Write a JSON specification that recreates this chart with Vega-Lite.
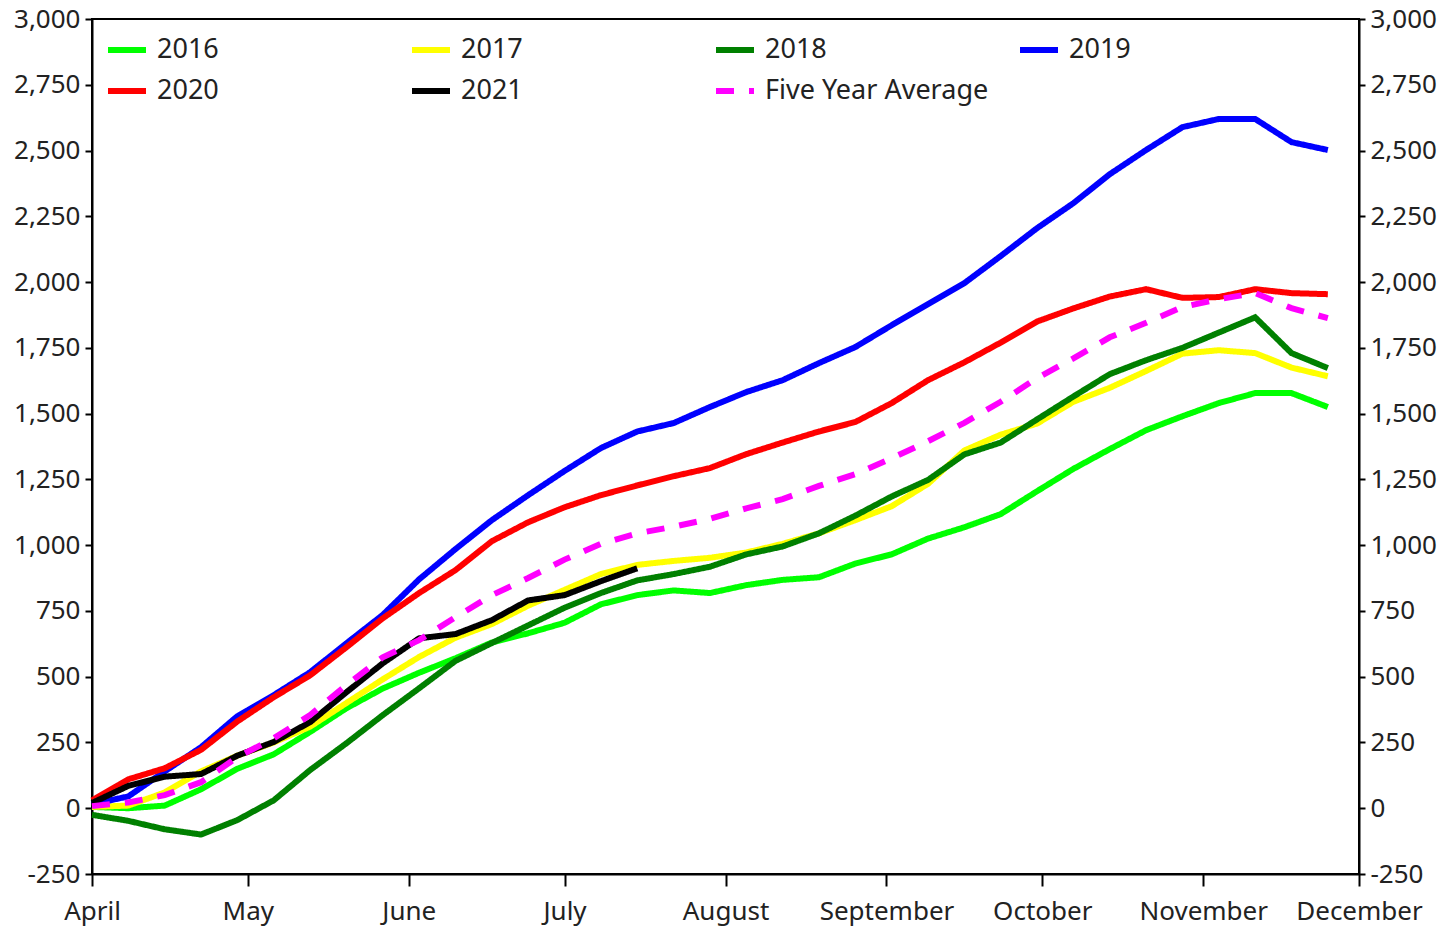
{
  "$schema": "https://vega.github.io/schema/vega-lite/v6.json",
  "width": 1267,
  "height": 855,
  "autosize": {"type": "none"},
  "padding": {"left": 92, "top": 19, "right": 96, "bottom": 64},
  "background": "white",
  "config": {
    "font": "Noto Sans",
    "view": {"stroke": "black", "strokeWidth": 2},
    "axis": {"grid": false, "domainColor": "black", "domainWidth": 2, "tickColor": "black", "tickWidth": 2, "labelColor": "#222222", "labelFontSize": 26, "labelFont": "Noto Sans", "title": null},
    "legend": {"orient": "none", "direction": "horizontal", "legendX": 13, "legendY": 9, "columns": 4, "gridAlign": "all", "columnPadding": 19, "rowPadding": 6, "symbolType": "stroke", "symbolSize": 1444, "symbolStrokeWidth": 6.5, "labelFontSize": 27, "labelFont": "Noto Sans", "labelOffset": 8, "padding": 0, "labelColor": "#222222", "labelLimit": 400}
  },
  "data": {"values": [
    {"date":"2021-04-01T00:00:00","series":"2016","value":5},{"date":"2021-04-08T00:00:00","series":"2016","value":0},{"date":"2021-04-15T00:00:00","series":"2016","value":10},{"date":"2021-04-22T00:00:00","series":"2016","value":72},{"date":"2021-04-29T00:00:00","series":"2016","value":150},{"date":"2021-05-06T00:00:00","series":"2016","value":205},{"date":"2021-05-13T00:00:00","series":"2016","value":290},{"date":"2021-05-20T00:00:00","series":"2016","value":380},{"date":"2021-05-27T00:00:00","series":"2016","value":455},{"date":"2021-06-03T00:00:00","series":"2016","value":515},{"date":"2021-06-10T00:00:00","series":"2016","value":570},{"date":"2021-06-17T00:00:00","series":"2016","value":630},{"date":"2021-06-24T00:00:00","series":"2016","value":665},{"date":"2021-07-01T00:00:00","series":"2016","value":705},{"date":"2021-07-08T00:00:00","series":"2016","value":775},{"date":"2021-07-15T00:00:00","series":"2016","value":810},{"date":"2021-07-22T00:00:00","series":"2016","value":828},{"date":"2021-07-29T00:00:00","series":"2016","value":818},{"date":"2021-08-05T00:00:00","series":"2016","value":848},{"date":"2021-08-12T00:00:00","series":"2016","value":868},{"date":"2021-08-19T00:00:00","series":"2016","value":878},{"date":"2021-08-26T00:00:00","series":"2016","value":930},{"date":"2021-09-02T00:00:00","series":"2016","value":965},{"date":"2021-09-09T00:00:00","series":"2016","value":1025},{"date":"2021-09-16T00:00:00","series":"2016","value":1068},{"date":"2021-09-23T00:00:00","series":"2016","value":1118},{"date":"2021-09-30T00:00:00","series":"2016","value":1205},{"date":"2021-10-07T00:00:00","series":"2016","value":1290},{"date":"2021-10-14T00:00:00","series":"2016","value":1365},{"date":"2021-10-21T00:00:00","series":"2016","value":1437},{"date":"2021-10-28T00:00:00","series":"2016","value":1490},{"date":"2021-11-04T00:00:00","series":"2016","value":1540},{"date":"2021-11-11T00:00:00","series":"2016","value":1578},{"date":"2021-11-18T00:00:00","series":"2016","value":1578},{"date":"2021-11-25T00:00:00","series":"2016","value":1525},
    {"date":"2021-04-01T00:00:00","series":"2017","value":5},{"date":"2021-04-08T00:00:00","series":"2017","value":10},{"date":"2021-04-15T00:00:00","series":"2017","value":60},{"date":"2021-04-22T00:00:00","series":"2017","value":140},{"date":"2021-04-29T00:00:00","series":"2017","value":200},{"date":"2021-05-06T00:00:00","series":"2017","value":250},{"date":"2021-05-13T00:00:00","series":"2017","value":310},{"date":"2021-05-20T00:00:00","series":"2017","value":400},{"date":"2021-05-27T00:00:00","series":"2017","value":490},{"date":"2021-06-03T00:00:00","series":"2017","value":575},{"date":"2021-06-10T00:00:00","series":"2017","value":648},{"date":"2021-06-17T00:00:00","series":"2017","value":700},{"date":"2021-06-24T00:00:00","series":"2017","value":770},{"date":"2021-07-01T00:00:00","series":"2017","value":830},{"date":"2021-07-08T00:00:00","series":"2017","value":890},{"date":"2021-07-15T00:00:00","series":"2017","value":925},{"date":"2021-07-22T00:00:00","series":"2017","value":940},{"date":"2021-07-29T00:00:00","series":"2017","value":952},{"date":"2021-08-05T00:00:00","series":"2017","value":972},{"date":"2021-08-12T00:00:00","series":"2017","value":1005},{"date":"2021-08-19T00:00:00","series":"2017","value":1045},{"date":"2021-08-26T00:00:00","series":"2017","value":1095},{"date":"2021-09-02T00:00:00","series":"2017","value":1148},{"date":"2021-09-09T00:00:00","series":"2017","value":1233},{"date":"2021-09-16T00:00:00","series":"2017","value":1360},{"date":"2021-09-23T00:00:00","series":"2017","value":1420},{"date":"2021-09-30T00:00:00","series":"2017","value":1462},{"date":"2021-10-07T00:00:00","series":"2017","value":1545},{"date":"2021-10-14T00:00:00","series":"2017","value":1598},{"date":"2021-10-21T00:00:00","series":"2017","value":1662},{"date":"2021-10-28T00:00:00","series":"2017","value":1728},{"date":"2021-11-04T00:00:00","series":"2017","value":1741},{"date":"2021-11-11T00:00:00","series":"2017","value":1730},{"date":"2021-11-18T00:00:00","series":"2017","value":1675},{"date":"2021-11-25T00:00:00","series":"2017","value":1642},
    {"date":"2021-04-01T00:00:00","series":"2018","value":-25},{"date":"2021-04-08T00:00:00","series":"2018","value":-48},{"date":"2021-04-15T00:00:00","series":"2018","value":-80},{"date":"2021-04-22T00:00:00","series":"2018","value":-100},{"date":"2021-04-29T00:00:00","series":"2018","value":-45},{"date":"2021-05-06T00:00:00","series":"2018","value":30},{"date":"2021-05-13T00:00:00","series":"2018","value":145},{"date":"2021-05-20T00:00:00","series":"2018","value":247},{"date":"2021-05-27T00:00:00","series":"2018","value":354},{"date":"2021-06-03T00:00:00","series":"2018","value":456},{"date":"2021-06-10T00:00:00","series":"2018","value":560},{"date":"2021-06-17T00:00:00","series":"2018","value":628},{"date":"2021-06-24T00:00:00","series":"2018","value":695},{"date":"2021-07-01T00:00:00","series":"2018","value":762},{"date":"2021-07-08T00:00:00","series":"2018","value":818},{"date":"2021-07-15T00:00:00","series":"2018","value":866},{"date":"2021-07-22T00:00:00","series":"2018","value":890},{"date":"2021-07-29T00:00:00","series":"2018","value":918},{"date":"2021-08-05T00:00:00","series":"2018","value":965},{"date":"2021-08-12T00:00:00","series":"2018","value":995},{"date":"2021-08-19T00:00:00","series":"2018","value":1045},{"date":"2021-08-26T00:00:00","series":"2018","value":1112},{"date":"2021-09-02T00:00:00","series":"2018","value":1185},{"date":"2021-09-09T00:00:00","series":"2018","value":1248},{"date":"2021-09-16T00:00:00","series":"2018","value":1345},{"date":"2021-09-23T00:00:00","series":"2018","value":1390},{"date":"2021-09-30T00:00:00","series":"2018","value":1478},{"date":"2021-10-07T00:00:00","series":"2018","value":1565},{"date":"2021-10-14T00:00:00","series":"2018","value":1650},{"date":"2021-10-21T00:00:00","series":"2018","value":1703},{"date":"2021-10-28T00:00:00","series":"2018","value":1750},{"date":"2021-11-04T00:00:00","series":"2018","value":1808},{"date":"2021-11-11T00:00:00","series":"2018","value":1866},{"date":"2021-11-18T00:00:00","series":"2018","value":1730},{"date":"2021-11-25T00:00:00","series":"2018","value":1673},
    {"date":"2021-04-01T00:00:00","series":"2019","value":15},{"date":"2021-04-08T00:00:00","series":"2019","value":45},{"date":"2021-04-15T00:00:00","series":"2019","value":140},{"date":"2021-04-22T00:00:00","series":"2019","value":232},{"date":"2021-04-29T00:00:00","series":"2019","value":350},{"date":"2021-05-06T00:00:00","series":"2019","value":430},{"date":"2021-05-13T00:00:00","series":"2019","value":517},{"date":"2021-05-20T00:00:00","series":"2019","value":627},{"date":"2021-05-27T00:00:00","series":"2019","value":735},{"date":"2021-06-03T00:00:00","series":"2019","value":870},{"date":"2021-06-10T00:00:00","series":"2019","value":985},{"date":"2021-06-17T00:00:00","series":"2019","value":1095},{"date":"2021-06-24T00:00:00","series":"2019","value":1190},{"date":"2021-07-01T00:00:00","series":"2019","value":1282},{"date":"2021-07-08T00:00:00","series":"2019","value":1369},{"date":"2021-07-15T00:00:00","series":"2019","value":1432},{"date":"2021-07-22T00:00:00","series":"2019","value":1464},{"date":"2021-07-29T00:00:00","series":"2019","value":1525},{"date":"2021-08-05T00:00:00","series":"2019","value":1582},{"date":"2021-08-12T00:00:00","series":"2019","value":1627},{"date":"2021-08-19T00:00:00","series":"2019","value":1692},{"date":"2021-08-26T00:00:00","series":"2019","value":1753},{"date":"2021-09-02T00:00:00","series":"2019","value":1836},{"date":"2021-09-09T00:00:00","series":"2019","value":1916},{"date":"2021-09-16T00:00:00","series":"2019","value":1996},{"date":"2021-09-23T00:00:00","series":"2019","value":2099},{"date":"2021-09-30T00:00:00","series":"2019","value":2205},{"date":"2021-10-07T00:00:00","series":"2019","value":2300},{"date":"2021-10-14T00:00:00","series":"2019","value":2410},{"date":"2021-10-21T00:00:00","series":"2019","value":2502},{"date":"2021-10-28T00:00:00","series":"2019","value":2589},{"date":"2021-11-04T00:00:00","series":"2019","value":2620},{"date":"2021-11-11T00:00:00","series":"2019","value":2620},{"date":"2021-11-18T00:00:00","series":"2019","value":2532},{"date":"2021-11-25T00:00:00","series":"2019","value":2502},
    {"date":"2021-04-01T00:00:00","series":"2020","value":30},{"date":"2021-04-08T00:00:00","series":"2020","value":110},{"date":"2021-04-15T00:00:00","series":"2020","value":152},{"date":"2021-04-22T00:00:00","series":"2020","value":222},{"date":"2021-04-29T00:00:00","series":"2020","value":330},{"date":"2021-05-06T00:00:00","series":"2020","value":422},{"date":"2021-05-13T00:00:00","series":"2020","value":505},{"date":"2021-05-20T00:00:00","series":"2020","value":612},{"date":"2021-05-27T00:00:00","series":"2020","value":722},{"date":"2021-06-03T00:00:00","series":"2020","value":818},{"date":"2021-06-10T00:00:00","series":"2020","value":905},{"date":"2021-06-17T00:00:00","series":"2020","value":1015},{"date":"2021-06-24T00:00:00","series":"2020","value":1087},{"date":"2021-07-01T00:00:00","series":"2020","value":1144},{"date":"2021-07-08T00:00:00","series":"2020","value":1190},{"date":"2021-07-15T00:00:00","series":"2020","value":1227},{"date":"2021-07-22T00:00:00","series":"2020","value":1262},{"date":"2021-07-29T00:00:00","series":"2020","value":1293},{"date":"2021-08-05T00:00:00","series":"2020","value":1346},{"date":"2021-08-12T00:00:00","series":"2020","value":1390},{"date":"2021-08-19T00:00:00","series":"2020","value":1432},{"date":"2021-08-26T00:00:00","series":"2020","value":1468},{"date":"2021-09-02T00:00:00","series":"2020","value":1540},{"date":"2021-09-09T00:00:00","series":"2020","value":1627},{"date":"2021-09-16T00:00:00","series":"2020","value":1695},{"date":"2021-09-23T00:00:00","series":"2020","value":1770},{"date":"2021-09-30T00:00:00","series":"2020","value":1850},{"date":"2021-10-07T00:00:00","series":"2020","value":1900},{"date":"2021-10-14T00:00:00","series":"2020","value":1945},{"date":"2021-10-21T00:00:00","series":"2020","value":1973},{"date":"2021-10-28T00:00:00","series":"2020","value":1940},{"date":"2021-11-04T00:00:00","series":"2020","value":1943},{"date":"2021-11-11T00:00:00","series":"2020","value":1973},{"date":"2021-11-18T00:00:00","series":"2020","value":1958},{"date":"2021-11-25T00:00:00","series":"2020","value":1954},
    {"date":"2021-04-01T00:00:00","series":"2021","value":20},{"date":"2021-04-08T00:00:00","series":"2021","value":85},{"date":"2021-04-15T00:00:00","series":"2021","value":120},{"date":"2021-04-22T00:00:00","series":"2021","value":130},{"date":"2021-04-29T00:00:00","series":"2021","value":200},{"date":"2021-05-06T00:00:00","series":"2021","value":252},{"date":"2021-05-13T00:00:00","series":"2021","value":327},{"date":"2021-05-20T00:00:00","series":"2021","value":441},{"date":"2021-05-27T00:00:00","series":"2021","value":551},{"date":"2021-06-03T00:00:00","series":"2021","value":646},{"date":"2021-06-10T00:00:00","series":"2021","value":662},{"date":"2021-06-17T00:00:00","series":"2021","value":715},{"date":"2021-06-24T00:00:00","series":"2021","value":790},{"date":"2021-07-01T00:00:00","series":"2021","value":810},{"date":"2021-07-08T00:00:00","series":"2021","value":863},{"date":"2021-07-15T00:00:00","series":"2021","value":912},
    {"date":"2021-04-01T00:00:00","series":"Five Year Average","value":8},{"date":"2021-04-08T00:00:00","series":"Five Year Average","value":22},{"date":"2021-04-15T00:00:00","series":"Five Year Average","value":50},{"date":"2021-04-22T00:00:00","series":"Five Year Average","value":99},{"date":"2021-04-29T00:00:00","series":"Five Year Average","value":194},{"date":"2021-05-06T00:00:00","series":"Five Year Average","value":266},{"date":"2021-05-13T00:00:00","series":"Five Year Average","value":354},{"date":"2021-05-20T00:00:00","series":"Five Year Average","value":468},{"date":"2021-05-27T00:00:00","series":"Five Year Average","value":574},{"date":"2021-06-03T00:00:00","series":"Five Year Average","value":639},{"date":"2021-06-10T00:00:00","series":"Five Year Average","value":726},{"date":"2021-06-17T00:00:00","series":"Five Year Average","value":810},{"date":"2021-06-24T00:00:00","series":"Five Year Average","value":875},{"date":"2021-07-01T00:00:00","series":"Five Year Average","value":945},{"date":"2021-07-08T00:00:00","series":"Five Year Average","value":1005},{"date":"2021-07-15T00:00:00","series":"Five Year Average","value":1045},{"date":"2021-07-22T00:00:00","series":"Five Year Average","value":1070},{"date":"2021-07-29T00:00:00","series":"Five Year Average","value":1100},{"date":"2021-08-05T00:00:00","series":"Five Year Average","value":1140},{"date":"2021-08-12T00:00:00","series":"Five Year Average","value":1175},{"date":"2021-08-19T00:00:00","series":"Five Year Average","value":1225},{"date":"2021-08-26T00:00:00","series":"Five Year Average","value":1270},{"date":"2021-09-02T00:00:00","series":"Five Year Average","value":1330},{"date":"2021-09-09T00:00:00","series":"Five Year Average","value":1395},{"date":"2021-09-16T00:00:00","series":"Five Year Average","value":1465},{"date":"2021-09-23T00:00:00","series":"Five Year Average","value":1545},{"date":"2021-09-30T00:00:00","series":"Five Year Average","value":1635},{"date":"2021-10-07T00:00:00","series":"Five Year Average","value":1710},{"date":"2021-10-14T00:00:00","series":"Five Year Average","value":1790},{"date":"2021-10-21T00:00:00","series":"Five Year Average","value":1845},{"date":"2021-10-28T00:00:00","series":"Five Year Average","value":1905},{"date":"2021-11-04T00:00:00","series":"Five Year Average","value":1935},{"date":"2021-11-11T00:00:00","series":"Five Year Average","value":1958},{"date":"2021-11-18T00:00:00","series":"Five Year Average","value":1901},{"date":"2021-11-25T00:00:00","series":"Five Year Average","value":1863}
  ]},
  "layer": [
    {
      "mark": {"type": "line"},
      "encoding": {
        "x": {"field": "date", "type": "temporal",
              "scale": {"domain": [{"year": 2021, "month": 4, "date": 1}, {"year": 2021, "month": 12, "date": 1}]},
              "axis": {"format": "%B", "tickCount": {"interval": "month", "step": 1}, "tickSize": 12, "labelPadding": 12, "labelFlush": false, "labelOverlap": false}},
        "y": {"field": "value", "type": "quantitative",
              "scale": {"domain": [-250, 3000], "nice": false, "zero": false},
              "axis": {"values": [-250, 0, 250, 500, 750, 1000, 1250, 1500, 1750, 2000, 2250, 2500, 2750, 3000], "format": ",d", "labelExpr": "replace(datum.label, '\u2212', '-')", "tickSize": 7, "labelPadding": 5}},
        "color": {"field": "series", "type": "nominal",
                  "scale": {"domain": ["2016", "2017", "2018", "2019", "2020", "2021", "Five Year Average"],
                            "range": ["#00ff00", "#ffff00", "#008000", "#0000ff", "#ff0000", "#000000", "#ff00ff"]},
                  "legend": {"title": null}},
        "strokeDash": {"field": "series", "type": "nominal",
                  "scale": {"domain": ["2016", "2017", "2018", "2019", "2020", "2021", "Five Year Average"],
                            "range": [[1, 0], [1, 0], [1, 0], [1, 0], [1, 0], [1, 0], [18, 15]]},
                  "legend": {"title": null}},
        "strokeWidth": {"field": "series", "type": "nominal",
                  "scale": {"domain": ["2016", "2017", "2018", "2019", "2020", "2021", "Five Year Average"],
                            "range": [6, 6, 6, 6, 6, 4.5, 6]},
                  "legend": null}
      }
    },
    {
      "mark": {"type": "point", "opacity": 0},
      "encoding": {
        "x": {"field": "date", "type": "temporal"},
        "y": {"field": "value", "type": "quantitative",
              "axis": {"orient": "right", "values": [-250, 0, 250, 500, 750, 1000, 1250, 1500, 1750, 2000, 2250, 2500, 2750, 3000], "format": ",d", "labelExpr": "replace(datum.label, '\u2212', '-')", "tickSize": 6, "labelPadding": 5}}
      }
    }
  ],
  "resolve": {"axis": {"y": "independent"}}
}
